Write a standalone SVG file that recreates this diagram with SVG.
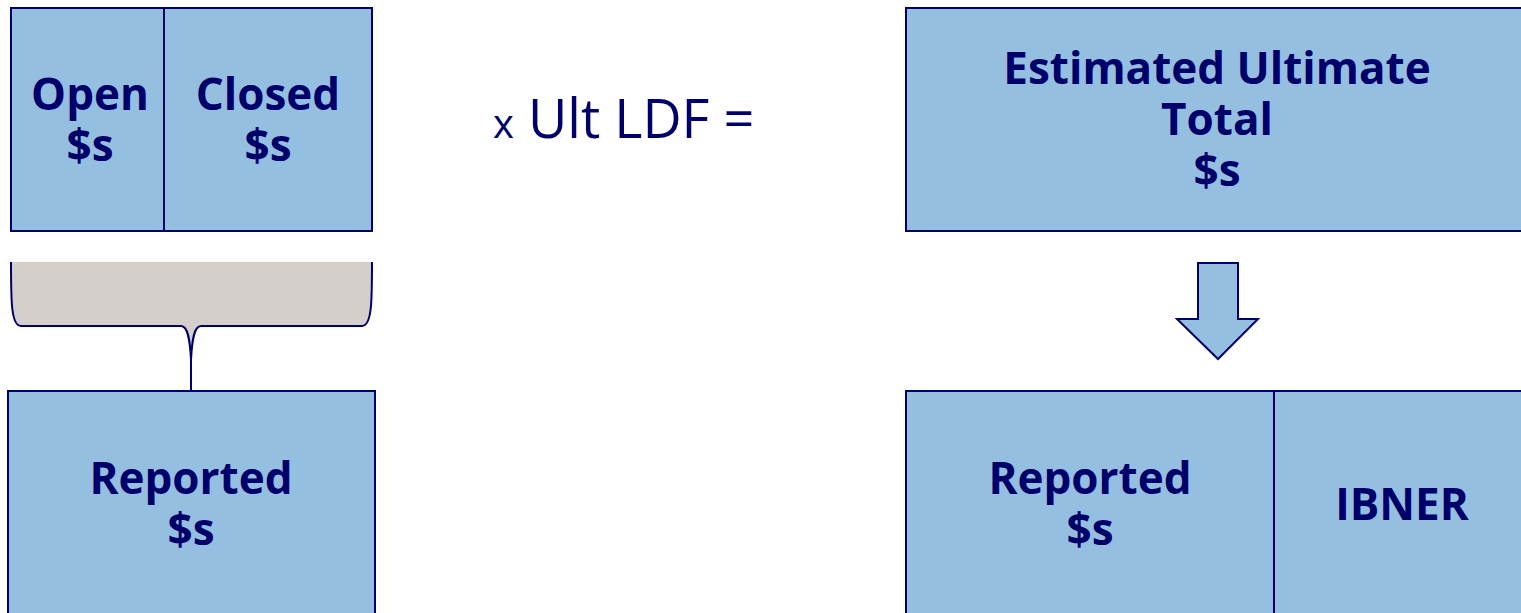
<svg xmlns="http://www.w3.org/2000/svg" width="1521" height="613" viewBox="0 0 1521 613">
<style>
.box{fill:#95bfe1;stroke:#00006a;stroke-width:2}
.lbl{font-family:"Open Sans","Liberation Sans",sans-serif;font-weight:bold;font-size:44px;fill:#00006a;text-anchor:middle}
.eq{font-family:"Open Sans","Liberation Sans",sans-serif;font-size:54px;fill:#00006a}
</style>
<rect width="1521" height="613" fill="#ffffff"/>
<g id="open">
<rect class="box" x="11" y="8" width="153" height="223"/>
<text class="lbl" x="90" y="110">Open<tspan x="90" dy="51">$s</tspan></text>
</g>
<g id="closed">
<rect class="box" x="164" y="8" width="208" height="223"/>
<text class="lbl" x="268" y="110">Closed<tspan x="268" dy="51">$s</tspan></text>
</g>
<g id="brace">
<path d="M11,262 L372,262 C372,300 372,326 362,326 L201,326 C194,326 192,340 191,360 L191,391 L191,360 C190,340 188,326 181,326 L21,326 C11,326 11,300 11,262 Z" fill="#d4cfcb" stroke="none"/>
<path d="M11,262 C11,300 11,326 21,326 L181,326 C188,326 190,340 191,360 L191,391 M372,262 C372,300 372,326 362,326 L201,326 C194,326 192,340 191,360" fill="none" stroke="#00006a" stroke-width="2"/>
</g>
<g id="reported-left">
<rect class="box" x="8" y="391" width="367" height="230"/>
<text class="lbl" x="191" y="494">Reported<tspan x="191" dy="51">$s</tspan></text>
</g>
<g id="formula">
<text class="eq" x="493" y="138"><tspan font-size="40">x</tspan> Ult LDF =</text>
</g>
<g id="ultimate">
<rect class="box" x="906" y="8" width="624" height="223"/>
<text class="lbl" x="1217" y="84">Estimated Ultimate<tspan x="1217" dy="51">Total</tspan><tspan x="1217" dy="51">$s</tspan></text>
</g>
<g id="connectors">
<path d="M1198,263 L1238,263 L1238,319 L1258,319 L1218,359 L1177,319 L1198,319 Z" fill="#95bfe1" stroke="#00006a" stroke-width="2" stroke-linejoin="miter"/>
</g>
<g id="reported-right">
<rect class="box" x="906" y="391" width="368" height="230"/>
<text class="lbl" x="1090" y="494">Reported<tspan x="1090" dy="51">$s</tspan></text>
</g>
<g id="ibner">
<rect class="box" x="1274" y="391" width="256" height="230"/>
<text class="lbl" x="1402" y="520">IBNER</text>
</g>
</svg>
